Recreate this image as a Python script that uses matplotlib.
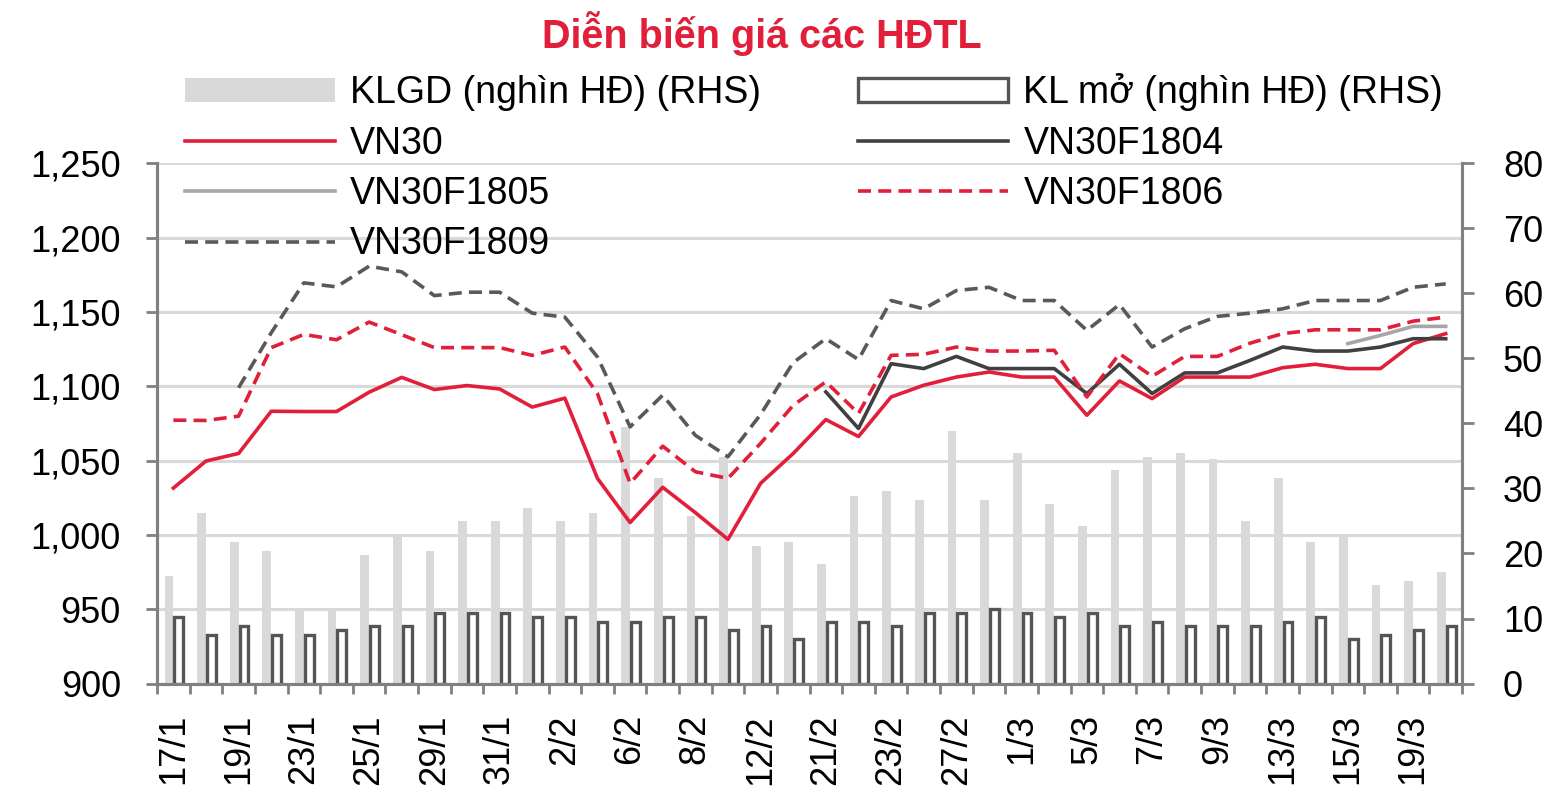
import numpy as np
import matplotlib
matplotlib.use("Agg")
import matplotlib.pyplot as plt
from matplotlib.ticker import StrMethodFormatter

plt.rcParams['font.family'] = ['Liberation Sans', 'DejaVu Sans']

# ---- data ----
dates = ['17/1', '18/1', '19/1', '22/1', '23/1', '24/1', '25/1', '26/1', '29/1', '30/1',
         '31/1', '1/2', '2/2', '5/2', '6/2', '7/2', '8/2', '9/2', '12/2', '13/2',
         '21/2', '22/2', '23/2', '26/2', '27/2', '28/2', '1/3', '2/3', '5/3', '6/3',
         '7/3', '8/3', '9/3', '12/3', '13/3', '14/3', '15/3', '16/3', '19/3', '20/3']

# traded volume (thousand contracts), RHS
klgd = [16.5, 26.3, 21.7, 20.4, 11.5, 11.5, 19.7, 22.8, 20.4, 25.0,
        25.0, 27.0, 25.0, 26.3, 39.4, 31.6, 25.7, 34.8, 21.1, 21.7,
        18.4, 28.9, 29.6, 28.3, 38.8, 28.3, 35.5, 27.6, 24.3, 32.9,
        34.8, 35.5, 34.6, 25.0, 31.6, 21.7, 22.5, 15.2, 15.8, 17.1]

# open interest (thousand contracts), RHS
kl_mo = [10.2, 7.5, 8.9, 7.5, 7.5, 8.2, 8.9, 8.9, 10.9, 10.9,
         10.9, 10.2, 10.2, 9.5, 9.5, 10.2, 10.2, 8.2, 8.9, 6.9,
         9.5, 9.5, 8.9, 10.9, 10.9, 11.5, 10.9, 10.2, 10.9, 8.9,
         9.5, 8.9, 8.9, 8.9, 9.5, 10.2, 6.9, 7.5, 8.2, 8.9]

nan = np.nan
vn30 = [1031.5, 1049.7, 1054.8, 1083.2, 1083.0, 1083.0, 1096.0, 1106.0, 1097.8, 1100.5,
        1098.2, 1086.0, 1092.0, 1038.0, 1008.3, 1032.0, 1015.0, 997.0, 1034.7, 1054.8,
        1077.6, 1066.2, 1092.8, 1100.7, 1106.2, 1109.6, 1106.2, 1106.2, 1080.5, 1103.6,
        1091.7, 1106.2, 1106.2, 1106.2, 1112.5, 1114.8, 1111.9, 1111.9, 1128.7, 1135.4]

vn30f1804 = [nan] * 20 + [1096.2, 1071.6, 1115.2, 1111.9, 1120.1, 1111.9, 1111.9, 1111.9, 1095.1, 1114.8,
                          1095.1, 1109.0, 1109.0, 1117.4, 1126.4, 1123.7, 1123.7, 1126.4, 1132.0, 1132.0]

vn30f1805 = [nan] * 36 + [1128.7, 1134.2, 1140.3, 1140.3]

vn30f1806 = [1077.2, 1077.0, 1079.9, 1126.0, 1134.9, 1131.3, 1143.2, 1134.7, 1126.0, 1126.0,
             1126.0, 1120.8, 1126.4, 1095.0, 1034.7, 1059.7, 1042.5, 1038.0, 1061.6, 1087.2,
             1103.0, 1081.7, 1120.8, 1121.5, 1126.4, 1123.7, 1123.7, 1124.2, 1092.8, 1121.9,
             1106.7, 1120.1, 1120.1, 1129.0, 1135.4, 1138.0, 1138.0, 1138.0, 1143.8, 1146.5]

vn30f1809 = [nan, nan, 1099.0, 1136.0, 1169.6, 1166.9, 1180.8, 1177.0, 1161.0, 1163.3,
             1163.3, 1149.2, 1146.5, 1119.7, 1072.7, 1094.0, 1067.0, 1052.6, 1081.0, 1116.0,
             1132.0, 1118.0, 1157.7, 1152.1, 1164.4, 1166.6, 1157.7, 1157.7, 1137.6, 1155.0,
             1126.4, 1138.7, 1147.0, 1149.2, 1152.1, 1157.7, 1157.7, 1157.7, 1166.6, 1168.9]

left_ticks = [900, 950, 1000, 1050, 1100, 1150, 1200, 1250]
right_ticks = [0, 10, 20, 30, 40, 50, 60, 70, 80]

RED = '#E21F3A'
AXIS_GRAY = '#808080'
GRID = '#D9D9D9'

x = np.arange(len(dates))

fig = plt.figure(figsize=(15.58, 8.09), dpi=100)
fig.subplots_adjust(left=0.1008, right=0.9384, top=0.7981, bottom=0.1551)

ax = fig.add_subplot(111)          # left scale, grid, axes
ax_bar = ax.twinx()                 # right scale, bars
ax_line = ax.twinx()                # left scale, lines on top
ax.set_zorder(0)
ax_bar.set_zorder(1)
ax_line.set_zorder(2)

# bars
bar_gray = ax_bar.bar(x, klgd, width=0.27, align='edge', color=GRID, linewidth=0)
bar_open = ax_bar.bar(x + 0.03, kl_mo, width=0.27, align='edge', facecolor='white',
                      edgecolor='#555555', linewidth=2.4)
# shift gray bars to the left of centre
for p in bar_gray.patches:
    p.set_x(p.get_x() - p.get_width())

# lines
l_vn30, = ax_line.plot(x, vn30, color=RED, lw=2.6)
l_1804, = ax_line.plot(x, vn30f1804, color='#404040', lw=2.6)
l_1805, = ax_line.plot(x, vn30f1805, color='#A6A6A6', lw=2.6)
l_1806, = ax_line.plot(x, vn30f1806, color=RED, lw=2.6, ls=(0, (3.6, 2.0)))
l_1809, = ax_line.plot(x, vn30f1809, color='#595959', lw=2.6, ls=(0, (3.6, 2.0)))

for a in (ax, ax_bar, ax_line):
    a.set_xlim(-0.5, len(dates) - 0.5)
ax.set_ylim(left_ticks[0], left_ticks[-1])
ax_line.set_ylim(left_ticks[0], left_ticks[-1])
ax_bar.set_ylim(right_ticks[0], right_ticks[-1])
ax_line.set_axis_off()

# left axis + grid
ax.set_yticks(left_ticks)
ax.yaxis.set_major_formatter(StrMethodFormatter('{x:,.0f}'))
ax.grid(axis='y', color=GRID, lw=2.2)
ax.set_axisbelow(True)
ax.tick_params(axis='y', labelsize=26, length=8, width=2, color=AXIS_GRAY, pad=18)

# x axis: labels every other day, small ticks on day boundaries
ax.set_xticks(x[::2])
ax.set_xticklabels(dates[::2], rotation=90)
ax.set_xticks(np.arange(-0.5, len(dates), 1), minor=True)
ax.tick_params(axis='x', which='major', labelsize=26, length=0, pad=22)
ax.tick_params(axis='x', which='minor', length=7.5, width=2, color=AXIS_GRAY)

# right axis
ax_bar.set_yticks(right_ticks)
ax_bar.tick_params(axis='y', labelsize=26, length=8.5, width=2, color=AXIS_GRAY, pad=21)

for a in (ax, ax_bar):
    a.spines['top'].set_visible(False)
    for side in ('left', 'right', 'bottom'):
        a.spines[side].set_color(AXIS_GRAY)
        a.spines[side].set_linewidth(2.2)

# title
fig.text(0.489, 0.9407, 'Diễn biến giá các HĐTL', ha='center', va='baseline',
         fontsize=28.5, fontweight='bold', color=RED)

# legend (column-wise filling gives the 2-column row order of the original)
handles = [bar_gray, l_vn30, l_1805, l_1809, bar_open, l_1804, l_1806]
labels = ['KLGD (nghìn HĐ) (RHS)', 'VN30', 'VN30F1805', 'VN30F1809',
          'KL mở (nghìn HĐ) (RHS)', 'VN30F1804', 'VN30F1806']
fig.legend(handles, labels, ncol=2, loc='upper left', bbox_to_anchor=(0.1187, 0.9093),
           frameon=False, fontsize=27, handlelength=4.0, handleheight=0.6,
           handletextpad=0.4, labelspacing=0.38, columnspacing=2.6,
           borderpad=0, borderaxespad=0)

fig.savefig('out.png', dpi=100)
